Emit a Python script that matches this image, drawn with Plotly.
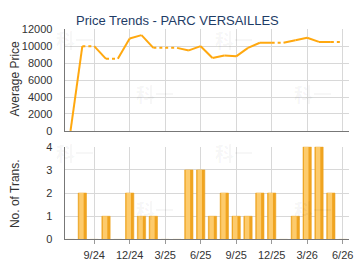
import plotly.graph_objects as go

# ---- data ----
month_labels = ["7/24", "8/24", "9/24", "10/24", "11/24", "12/24", "1/25", "2/25", "3/25",
                "4/25", "5/25", "6/25", "7/25", "8/25", "9/25", "10/25", "11/25", "12/25",
                "1/26", "2/26", "3/26", "4/26", "5/26", "6/26"]
avg_price = [0, 10000, None, 8500, None, 10900, 11300, 9800, None, None, 9500, 10000,
             8600, 8900, 8800, 9800, 10400, 10400, None, 10700, 11000, 10500, 10500, None]
num_trans = [0, 2, 0, 1, 0, 2, 1, 1, 0, 0, 3, 3, 1, 2, 1, 1, 2, 2, 0, 1, 4, 4, 2, 0]
tick_months = ["9/24", "12/24", "3/25", "6/25", "9/25", "12/25", "3/26", "6/26"]
price_ticks = [0, 2000, 4000, 6000, 8000, 10000, 12000]
trans_ticks = [0, 1, 2, 3, 4]
title_text = "Price Trends - PARC VERSAILLES"

W, H = 360, 270
idx = list(range(len(month_labels)))
tickvals = [month_labels.index(t) for t in tick_months]

# carry forward missing months; solid where the month has data, dotted otherwise
carried = []
last = None
for v in avg_price:
    if v is not None:
        last = v
    carried.append(last)
solid_x, solid_y, dot_x, dot_y = [], [], [], []
for i in range(1, len(idx)):
    tx, ty = (solid_x, solid_y) if avg_price[i] is not None else (dot_x, dot_y)
    tx += [idx[i - 1], idx[i], None]
    ty += [carried[i - 1], carried[i], None]

fig = go.Figure()
line_col = "#FFA80F"
fig.add_trace(go.Scatter(x=solid_x, y=solid_y, mode="lines",
                         line=dict(color=line_col, width=2), xaxis="x", yaxis="y",
                         hoverinfo="skip"))
fig.add_trace(go.Scatter(x=dot_x, y=dot_y, mode="lines",
                         line=dict(color=line_col, width=2, dash="dot"), xaxis="x", yaxis="y",
                         hoverinfo="skip"))

# bars with a simple two-tone gradient look
fig.add_trace(go.Bar(x=idx, y=num_trans, width=0.7, marker=dict(color="#F0A420",
                     line=dict(color="#EBA21E", width=0.6)), xaxis="x2", yaxis="y2"))
fig.add_trace(go.Bar(x=idx, y=num_trans, width=0.38, offset=-0.27,
                     marker=dict(color="#FDCB6C", line=dict(width=0)), xaxis="x2", yaxis="y2"))

def px_x(p):
    return p / W

def px_y(p):
    return 1 - p / H

xdom = [px_x(65.5), px_x(353.5)]
grid = "#D8D8D8"
axline = "#777777"
tickfont = dict(family="Liberation Sans, Arial", size=11, color="#333333")

common_x = dict(range=[-0.5, 23.5], tickvals=tickvals, ticktext=tick_months,
                showgrid=True, gridcolor=grid, gridwidth=1, zeroline=False,
                showline=True, linecolor=axline, linewidth=1, domain=xdom,
                tickfont=tickfont, fixedrange=True)

fig.update_layout(
    width=W, height=H, margin=dict(l=0, r=0, t=0, b=0),
    paper_bgcolor="white", plot_bgcolor="white", showlegend=False, barmode="overlay",
    xaxis=dict(common_x, anchor="y", showticklabels=False, ticks=""),
    yaxis=dict(domain=[px_y(130.7), px_y(24.3)], range=[0, 12000], tickvals=price_ticks,
               tickformat="d", exponentformat="none",
               showgrid=True, gridcolor=grid, zeroline=False, showline=True,
               linecolor=axline, linewidth=1, tickfont=tickfont, ticks="",
               ticklabelstandoff=9, anchor="x"),
    xaxis2=dict(common_x, anchor="y2", ticks="outside", ticklen=4, tickcolor="#999999",
                ticklabelstandoff=1),
    yaxis2=dict(domain=[px_y(244.3), px_y(147.3)], range=[0, 4], tickvals=trans_ticks,
                showgrid=True, gridcolor=grid, zeroline=False, showline=True,
                linecolor=axline, linewidth=1, tickfont=tickfont, ticks="",
                ticklabelstandoff=9, anchor="x2"),
)

annots = [
    dict(text=title_text, x=px_x(180), y=px_y(15), font=dict(family="Liberation Sans, Arial",
         size=13, color="#1E3C66")),
    dict(text="Average Price", x=px_x(15), y=px_y(76), textangle=-90,
         font=dict(family="Liberation Sans, Arial", size=12, color="#333333")),
    dict(text="No. of Trans.", x=px_x(15), y=px_y(196), textangle=-90,
         font=dict(family="Liberation Sans, Arial", size=12, color="#333333")),
]
for (wx, wy) in [(76, 35), (157, 92), (237, 35), (317, 92),
                 (76, 153), (157, 213), (237, 153), (317, 213)]:
    annots.append(dict(text="<b>科一</b>", x=px_x(wx), y=px_y(wy),
                       font=dict(family="Noto Sans CJK SC", size=19, color="rgba(0,0,0,0.045)")))
for a in annots:
    a.update(xref="paper", yref="paper", showarrow=False, xanchor="center", yanchor="middle")
fig.update_layout(annotations=annots)

fig.write_html("out.html", config={"displayModeBar": False})
